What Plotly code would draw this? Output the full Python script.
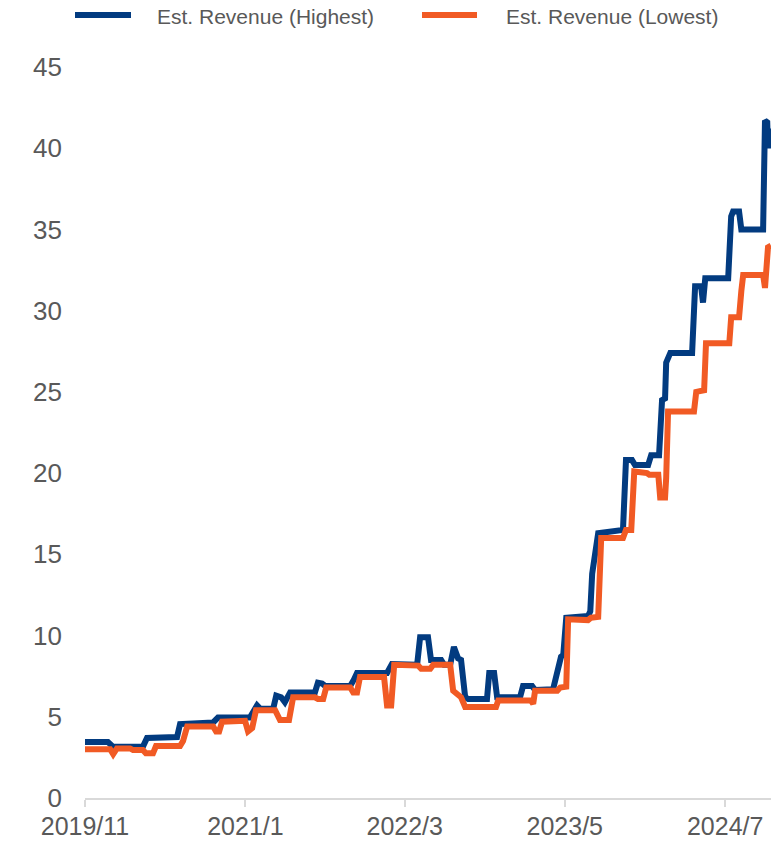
import plotly.graph_objects as go

high_dates = [
    "2019-11-01", "2020-01-01", "2020-01-15", "2020-04-03", "2020-04-14", "2020-07-03",
    "2020-07-11", "2020-10-07", "2020-10-20", "2021-01-13", "2021-02-01", "2021-02-09",
    "2021-03-16", "2021-03-24", "2021-04-06", "2021-04-16", "2021-04-30", "2021-07-05",
    "2021-07-13", "2021-07-24", "2021-08-01", "2021-10-07", "2021-10-17", "2021-10-25",
    "2022-01-13", "2022-01-26", "2022-04-03", "2022-04-11", "2022-05-02", "2022-05-10",
    "2022-06-06", "2022-06-14", "2022-06-30", "2022-07-10", "2022-07-21", "2022-07-29",
    "2022-08-09", "2022-08-17", "2022-10-06", "2022-10-12", "2022-10-25", "2022-11-02",
    "2023-01-02", "2023-01-10", "2023-02-03", "2023-02-11", "2023-03-31", "2023-04-11",
    "2023-04-21", "2023-04-27", "2023-05-05", "2023-07-02", "2023-07-08", "2023-07-13",
    "2023-07-21", "2023-07-29", "2023-10-03", "2023-10-11", "2023-10-27", "2023-11-04",
    "2023-12-09", "2023-12-17", "2024-01-07", "2024-01-15", "2024-01-23", "2024-01-26",
    "2024-02-06", "2024-04-04", "2024-04-12", "2024-04-28", "2024-05-03", "2024-05-09",
    "2024-07-09", "2024-07-17", "2024-07-22", "2024-08-07", "2024-08-13", "2024-10-10",
    "2024-10-15", "2024-10-21", "2024-10-23", "2024-10-26", "2024-10-31",
]
high_values = [
    3.45, 3.45, 3.15, 3.15, 3.7, 3.75,
    4.55, 4.65, 4.95, 4.95, 5.7, 5.5,
    5.5, 6.3, 6.2, 5.9, 6.5, 6.5,
    7.1, 7.05, 6.9, 6.9, 7.3, 7.7,
    7.7, 8.25, 8.2, 9.9, 9.9, 8.5,
    8.5, 8.2, 8.2, 9.3, 8.6, 8.5,
    6.2, 6.1, 6.1, 7.7, 7.7, 6.2,
    6.2, 6.9, 6.9, 6.65, 6.7, 7.8,
    8.7, 8.8, 11.1, 11.2, 11.5, 13.8,
    15.3, 16.3, 16.5, 20.8, 20.8, 20.5,
    20.5, 21.1, 21.1, 24.5, 24.6, 26.8,
    27.4, 27.4, 31.5, 31.5, 30.5, 32.0,
    32.0, 35.8, 36.1, 36.1, 35.0, 35.0,
    41.7, 41.6, 40.0, 41.2, 40.0,
]

low_dates = [
    "2019-11-01", "2020-01-07", "2020-01-15", "2020-01-25", "2020-02-29", "2020-03-08",
    "2020-04-03", "2020-04-11", "2020-04-30", "2020-05-08", "2020-07-11", "2020-07-19",
    "2020-07-30", "2020-10-07", "2020-10-15", "2020-10-23", "2020-10-31", "2020-12-31",
    "2021-01-08", "2021-01-19", "2021-01-29", "2021-03-21", "2021-04-03", "2021-04-27",
    "2021-05-08", "2021-07-05", "2021-07-13", "2021-07-27", "2021-08-04", "2021-10-07",
    "2021-10-15", "2021-10-25", "2021-11-02", "2022-01-05", "2022-01-13", "2022-01-24",
    "2022-02-01", "2022-04-06", "2022-04-14", "2022-05-08", "2022-05-16", "2022-06-30",
    "2022-07-08", "2022-07-21", "2022-07-29", "2022-08-09", "2022-10-30", "2022-11-05",
    "2023-01-31", "2023-02-06", "2023-02-11", "2023-04-11", "2023-04-19", "2023-05-05",
    "2023-05-10", "2023-07-02", "2023-07-10", "2023-07-29", "2023-08-06", "2023-10-03",
    "2023-10-11", "2023-10-25", "2023-11-02", "2023-12-06", "2023-12-12", "2024-01-05",
    "2024-01-10", "2024-01-23", "2024-01-26", "2024-01-31", "2024-04-09", "2024-04-15",
    "2024-05-06", "2024-05-11", "2024-07-12", "2024-07-17", "2024-08-07", "2024-08-13",
    "2024-08-18", "2024-10-10", "2024-10-15", "2024-10-23", "2024-10-31",
]
low_values = [
    3.0, 3.0, 2.7, 3.05, 3.05, 2.95,
    2.95, 2.75, 2.75, 3.2, 3.2, 3.5,
    4.4, 4.4, 4.1, 4.1, 4.7, 4.75,
    4.1, 4.3, 5.4, 5.4, 4.8, 4.8,
    6.2, 6.2, 6.1, 6.1, 6.8, 6.8,
    6.5, 6.5, 7.45, 7.45, 5.7, 5.7,
    8.2, 8.15, 7.95, 7.95, 8.2, 8.2,
    6.6, 6.4, 6.2, 5.6, 5.6, 6.0,
    6.0, 5.8, 6.6, 6.6, 6.8, 6.85,
    11.0, 10.95, 11.1, 11.15, 16.0, 16.0,
    16.5, 16.5, 20.1, 20.0, 19.9, 19.9,
    18.5, 18.5, 19.7, 23.8, 23.8, 25.0,
    25.1, 28.0, 28.0, 29.6, 29.6, 31.2,
    32.2, 32.2, 31.4, 33.9, 34.0,
]

series_names = ["Est. Revenue (Highest)", "Est. Revenue (Lowest)"]
series_colors = ["#023B80", "#F15A24"]

tick_dates = ["2019-11-01", "2021-01-01", "2022-03-01", "2023-05-01", "2024-07-01"]
tick_labels = ["2019/11", "2021/1", "2022/3", "2023/5", "2024/7"]
y_ticks = [0, 5, 10, 15, 20, 25, 30, 35, 40, 45]

# layout geometry (pixels)
W, H = 784, 842
ML, MR, MT, MB = 85, 13, 67, 44
PW, PH = W - ML - MR, H - MT - MB


def px_x(p):
    return (p - ML) / PW


def px_y(p):
    return (H - MB - p) / PH


fig = go.Figure()
for xs, ys, name, color in [
    (high_dates, high_values, series_names[0], series_colors[0]),
    (low_dates, low_values, series_names[1], series_colors[1]),
]:
    fig.add_trace(go.Scatter(
        x=xs, y=ys, mode="lines", name=name,
        line=dict(color=color, width=6),
        showlegend=False,
    ))

# manual legend (line sample + text), positioned like the reference
legend_items = [
    (75, 131, 155),
    (422, 477, 504),
]
shapes = []
annotations = []
for (lx0, lx1, tx), name, color in zip(legend_items, series_names, series_colors):
    shapes.append(dict(
        type="line", xref="paper", yref="paper",
        x0=px_x(lx0), x1=px_x(lx1), y0=px_y(15), y1=px_y(15),
        line=dict(color=color, width=6),
    ))
    annotations.append(dict(
        xref="paper", yref="paper", x=px_x(tx), y=px_y(16.5),
        xanchor="left", yanchor="middle", showarrow=False,
        text=name, font=dict(size=21, color="#595959"),
    ))

fig.update_layout(
    width=W, height=H,
    margin=dict(l=ML, r=MR, t=MT, b=MB, autoexpand=False),
    paper_bgcolor="white", plot_bgcolor="white",
    font=dict(family="Liberation Sans, Arial, sans-serif", color="#595959"),
    showlegend=False,
    shapes=shapes,
    annotations=annotations,
    xaxis=dict(
        type="date",
        range=["2019-11-01", "2024-10-31"],
        tickvals=tick_dates, ticktext=tick_labels,
        showgrid=False, zeroline=False,
        showline=True, linecolor="#d9d9d9", linewidth=2,
        ticks="outside", ticklen=7, tickcolor="#d9d9d9", tickwidth=2,
        tickfont=dict(size=25, color="#595959"),
        ticklabelstandoff=-2,
        automargin=False,
    ),
    yaxis=dict(
        range=[0, 45], tickvals=y_ticks,
        showgrid=False, zeroline=False, showline=False,
        ticklabelstandoff=22,
        tickfont=dict(size=26, color="#595959"),
        automargin=False,
    ),
)

fig.write_html("out.html")
